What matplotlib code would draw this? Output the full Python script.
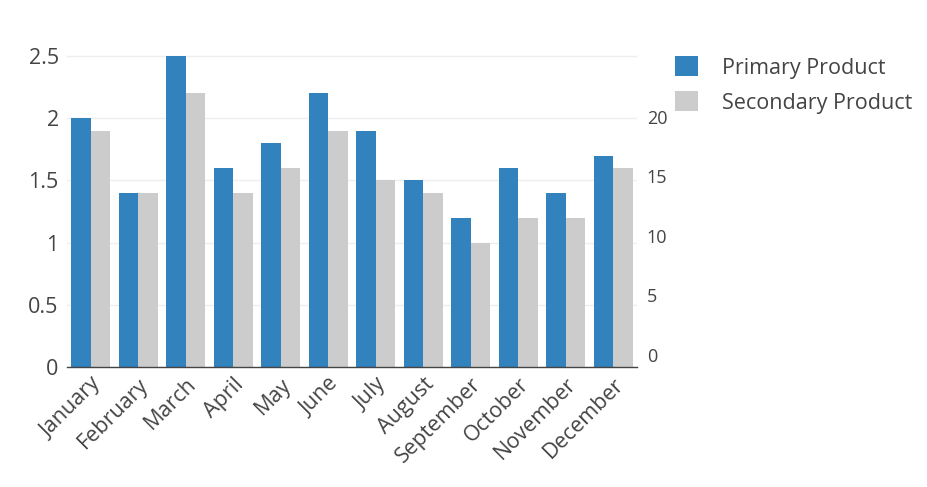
import matplotlib
matplotlib.use("Agg")
import matplotlib.pyplot as plt
import numpy as np
from matplotlib.patches import Patch

months = ["January", "February", "March", "April", "May", "June", "July",
          "August", "September", "October", "November", "December"]
primary = [2.0, 1.4, 2.5, 1.6, 1.8, 2.2, 1.9, 1.5, 1.2, 1.6, 1.4, 1.7]
secondary = [1.9, 1.4, 2.2, 1.4, 1.6, 1.9, 1.5, 1.4, 1.0, 1.2, 1.2, 1.6]
left_ticks = [0, 0.5, 1, 1.5, 2, 2.5]
left_tick_labels = ["0", "0.5", "1", "1.5", "2", "2.5"]
right_ticks = [0, 5, 10, 15, 20]

blue = "#3182bd"
grey = "#cccccc"
txt = "#444444"

plt.rcParams['font.family'] = ['Open Sans', 'DejaVu Sans']

W, H = 927, 487
fig = plt.figure(figsize=(W / 100, H / 100), dpi=100)
left, right, top, bottom = 67, 637, 40, 367
ax = fig.add_axes([left / W, 1 - bottom / H, (right - left) / W, (bottom - top) / H])

x = np.arange(len(months))
bw = 0.41
ax.bar(x - bw / 2, primary, bw, color=blue, zorder=3, label="Primary Product")
ax.bar(x + bw / 2, secondary, bw, color=grey, zorder=3, label="Secondary Product")
ax.set_xlim(-0.5, len(months) - 0.5)
ax.set_ylim(0, 2.63)

ax.set_yticks(left_ticks)
ax.set_yticklabels(left_tick_labels)
ax.grid(axis='y', color='#eeeeee', linewidth=1, zorder=0)
ax.tick_params(axis='y', length=0, pad=6, labelsize=15.5, labelcolor=txt)
ax.set_xticks(x)
ax.set_xticklabels(months, rotation=45, ha='right', rotation_mode='anchor')
ax.tick_params(axis='x', length=0, pad=5, labelsize=15.5, labelcolor=txt)
for s in ['top', 'right', 'left']:
    ax.spines[s].set_visible(False)
ax.spines['bottom'].set_color(txt)
ax.spines['bottom'].set_linewidth(1)
ax.spines['bottom'].set_zorder(4)

ax2 = ax.twinx()
# right axis: 0 at y=355px, 20 at y=117px
ppu = (355 - 117) / 20
lo = -(bottom - 355) / ppu
hi = (355 - top) / ppu
ax2.set_ylim(lo, hi)
ax2.set_yticks(right_ticks)
ax2.tick_params(axis='y', length=0, pad=7, labelsize=13, labelcolor=txt)
for s in ['top', 'right', 'left', 'bottom']:
    ax2.spines[s].set_visible(False)

handles = [Patch(facecolor=blue, edgecolor='none', label="Primary Product"),
           Patch(facecolor=grey, edgecolor='none', label="Secondary Product")]
leg = fig.legend(handles=handles, loc='upper left', bbox_to_anchor=(656 / W, 1 - 37 / H),
                 frameon=False, fontsize=15.5, handlelength=1.05, handleheight=1.05,
                 handletextpad=1.1, labelspacing=0.58, labelcolor=txt)

fig.savefig("out.png", dpi=100)
